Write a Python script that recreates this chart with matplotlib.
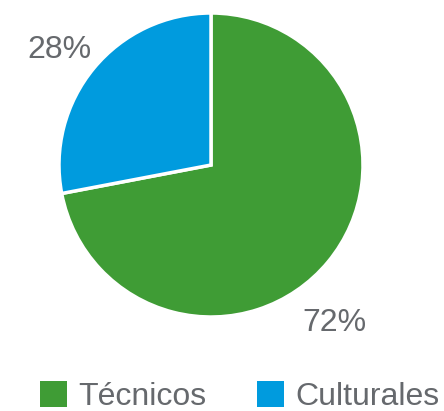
import matplotlib.pyplot as plt
from matplotlib.patches import Patch

categories = ["Técnicos", "Culturales"]
values = [72, 28]
colors = ["#3f9c35", "#009bde"]
pct_labels = ["72%", "28%"]

plt.rcParams["font.family"] = ["Liberation Sans", "DejaVu Sans"]
text_color = "#66696d"

fig = plt.figure(figsize=(4.44, 4.11), dpi=100)
ax = fig.add_axes([0, 0, 1, 1])

# pie in pixel-like coordinates, starting at the top going clockwise
ax.pie(values, colors=colors, startangle=90, counterclock=False,
       center=(211, 246), radius=152, frame=True,
       wedgeprops=dict(edgecolor="white", linewidth=2.5))
ax.set_aspect("auto")
ax.set_xlim(0, 444)
ax.set_ylim(0, 411)
ax.axis("off")

ax.text(334, 88, pct_labels[0], fontsize=23, color=text_color, ha="center", va="center")
ax.text(59, 361, pct_labels[1], fontsize=23, color=text_color, ha="center", va="center")

handles = [Patch(facecolor=c, edgecolor="none") for c in colors]
fig.legend(handles, categories, loc="lower center", bbox_to_anchor=(0.54, -0.072),
           ncol=2, frameon=False, fontsize=23, labelcolor=text_color,
           handlelength=0.85, handleheight=0.85, handletextpad=0.35,
           columnspacing=1.6)

fig.savefig("out.png", dpi=100)
